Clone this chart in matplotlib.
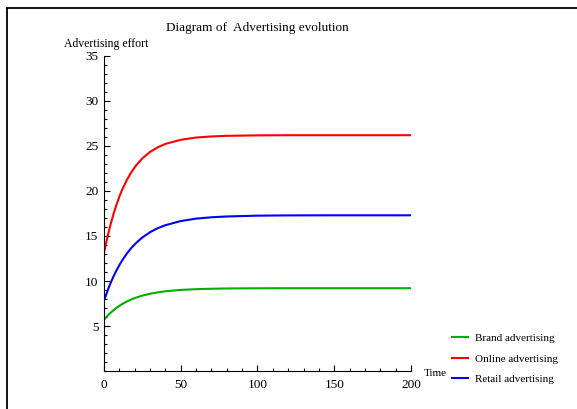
import matplotlib.pyplot as plt
from matplotlib.lines import Line2D
from matplotlib.ticker import MultipleLocator

# values
time = [0, 2, 4, 6, 8, 10, 12, 15, 18, 21, 25, 30, 35, 40, 50, 60, 70, 80, 100, 120, 150, 200]
brand = [5.70, 6.08, 6.42, 6.73, 7.00, 7.24, 7.45, 7.73, 7.97, 8.16, 8.38, 8.58, 8.74, 8.86,
         9.01, 9.09, 9.14, 9.17, 9.19, 9.20, 9.20, 9.20]
online = [13.10, 14.70, 16.10, 17.33, 18.41, 19.36, 20.20, 21.26, 22.14, 22.86, 23.62, 24.34,
          24.85, 25.23, 25.69, 25.94, 26.06, 26.13, 26.18, 26.20, 26.20, 26.20]
retail = [7.80, 8.77, 9.65, 10.43, 11.13, 11.76, 12.33, 13.07, 13.71, 14.24, 14.84, 15.42,
          15.87, 16.20, 16.66, 16.93, 17.08, 17.17, 17.26, 17.29, 17.30, 17.30]
yticks = [5, 10, 15, 20, 25, 30, 35]

plt.rcParams['font.family'] = 'Liberation Serif'

fig = plt.figure(figsize=(5.77, 4.09), dpi=100)
ax = fig.add_axes([0.1802, 0.0929, 0.5321, 0.7702])

ax.plot(time, brand, color='#00b000', lw=1.5, label='Brand advertising')
ax.plot(time, online, color='#ff0000', lw=1.5, label='Online advertising')
ax.plot(time, retail, color='#0000ff', lw=1.5, label='Retail advertising')

ax.set_xlim(0, 200)
ax.set_ylim(0, 35)
for s in ['top', 'right']:
    ax.spines[s].set_visible(False)
for s in ['left', 'bottom']:
    ax.spines[s].set_linewidth(0.8)
ax.xaxis.set_major_locator(MultipleLocator(50))
ax.xaxis.set_minor_locator(MultipleLocator(10))
ax.set_yticks(yticks)
ax.yaxis.set_minor_locator(MultipleLocator(1))
ax.tick_params(which='both', direction='in', labelsize=9.5, width=0.8)
ax.tick_params(which='major', length=4)
ax.tick_params(which='minor', length=2.2)
ax.tick_params(axis='y', pad=4)
ax.tick_params(axis='x', pad=6)

ax.set_title('Diagram of  Advertising evolution', fontsize=9.5, pad=18)
fig.text(0.1845, 0.892, 'Advertising effort', fontsize=8.5, ha='center', va='center')
fig.text(0.735, 0.086, 'Time', fontsize=8, ha='left', va='center')

fig.legend(loc='upper left', bbox_to_anchor=(0.774, 0.198), frameon=False, fontsize=8,
           handlelength=1.45, handletextpad=0.6, labelspacing=0.95, borderpad=0)

# frame edges of the original screenshot
fig.add_artist(Line2D([0.0117, 0.0117], [0, 0.9795], color='black', lw=1.3, transform=fig.transFigure))
fig.add_artist(Line2D([0.0117, 1], [0.9795, 0.9795], color='black', lw=1.3, transform=fig.transFigure))

fig.savefig('out.png', dpi=100)
